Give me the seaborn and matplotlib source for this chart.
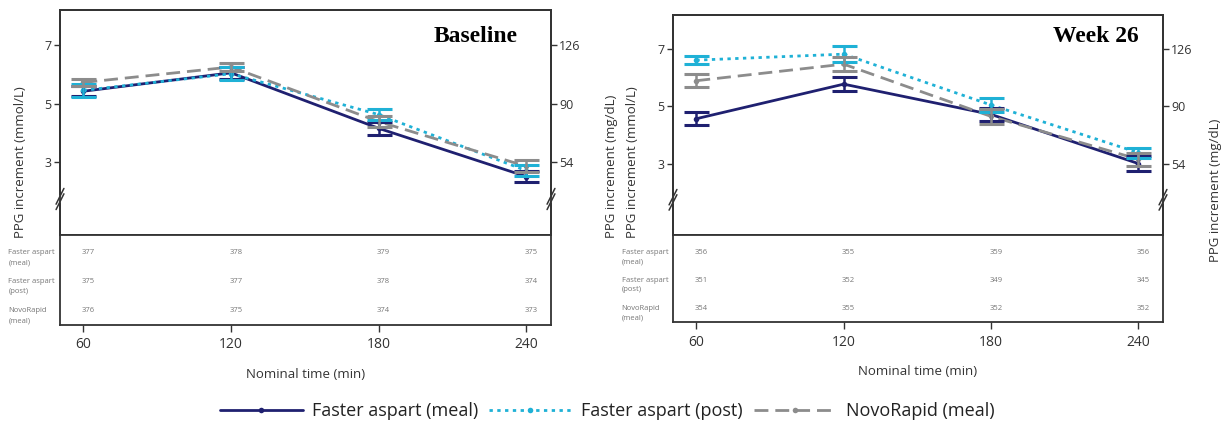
import matplotlib
matplotlib.use("Agg")
import matplotlib.pyplot as plt
import seaborn as sns
import numpy as np
import pandas as pd

# ---- data -------------------------------------------------------------
times = [60, 120, 180, 240]
series_names = ["Faster aspart (meal)", "Faster aspart (post)", "NovoRapid (meal)"]

baseline_meal = [5.42, 6.05, 4.15, 2.50]
baseline_post = [5.45, 6.02, 4.62, 2.70]
baseline_novo = [5.72, 6.25, 4.38, 2.85]
baseline_meal_se = [0.18, 0.20, 0.22, 0.20]
baseline_post_se = [0.22, 0.22, 0.18, 0.18]
baseline_novo_se = [0.12, 0.14, 0.20, 0.20]

week26_meal = [4.57, 5.78, 4.72, 3.00]
week26_post = [6.62, 6.83, 5.05, 3.38]
week26_novo = [5.90, 6.48, 4.65, 3.15]
week26_meal_se = [0.22, 0.25, 0.22, 0.25]
week26_post_se = [0.15, 0.28, 0.24, 0.18]
week26_novo_se = [0.22, 0.25, 0.25, 0.22]

baseline_n_meal = [377, 378, 379, 375]
baseline_n_post = [375, 377, 378, 374]
baseline_n_novo = [376, 375, 374, 373]
week26_n_meal = [356, 355, 359, 356]
week26_n_post = [351, 352, 349, 345]
week26_n_novo = [354, 355, 352, 352]

row_labels = [("Faster aspart", "(meal)"), ("Faster aspart", "(post)"), ("NovoRapid", "(meal)")]
y_ticks_mmol = [3, 5, 7]
y_ticks_mgdl = [54, 90, 126]
MMOL_TO_MGDL = 18.0

# ---- style ------------------------------------------------------------
sns.set_theme(style="white")
plt.rcParams["font.family"] = ["Open Sans", "DejaVu Sans"]

colors = ["#1f2070", "#1fb1d6", "#8c8c8c"]
styles = [dict(linestyle="-"),
          dict(linestyle=(0, (1.2, 1.6))),
          dict(linestyle=(0, (5, 2.5)))]
SPINE = "#333333"

W, H = 1222, 426
fig = plt.figure(figsize=(W / 100, H / 100), dpi=100)


def rect(x0, y0, x1, y1):
    return [x0 / W, 1 - y1 / H, (x1 - x0) / W, (y1 - y0) / H]


def break_mark(ax, xfrac, yfrac):
    # small "//" axis-break symbol on a spine
    tr = ax.transAxes
    dx, dy = 0.008, 0.035
    for off in (-0.012, 0.012):
        ax.plot([xfrac - dx, xfrac + dx], [yfrac + off - dy, yfrac + off + dy],
                transform=tr, color=SPINE, lw=1.1, clip_on=False, zorder=10)
    ax.plot([xfrac, xfrac], [yfrac - 0.01, yfrac + 0.01], transform=tr,
            color="white", lw=3, clip_on=False, zorder=9)


def panel(main_rect, table_rect, means, ses, counts, title, title_pos):
    ax = fig.add_axes(rect(*main_rect))
    tab = fig.add_axes(rect(*table_rect), sharex=ax)

    for name, m, se, c, st in zip(series_names, means, ses, colors, styles):
        df = pd.DataFrame({"time": times, "value": m})
        sns.lineplot(data=df, x="time", y="value", ax=ax, color=c, lw=2.0,
                     marker="o", markersize=4, markeredgewidth=0,
                     label=name, **st)
        ax.errorbar(times, m, yerr=se, fmt="none", ecolor=c, elinewidth=1.8,
                    capsize=9, capthick=2.2, zorder=3)

    ax.set_xlim(50.5, 250)
    ax.set_ylim(0.5, 8.2)
    ax.set_yticks(y_ticks_mmol)
    ax.set_yticklabels([str(v) for v in y_ticks_mmol], fontsize=9, color="#333")
    ax.set_xlabel("")
    ax.set_ylabel("")
    ax.tick_params(axis="x", bottom=False, labelbottom=False)
    ax.tick_params(axis="y", left=True, length=4, width=1, color=SPINE, pad=2)

    axr = ax.twinx()
    axr.set_ylim(0.5 * MMOL_TO_MGDL, 8.2 * MMOL_TO_MGDL)
    axr.set_yticks(y_ticks_mgdl)
    axr.set_yticklabels([str(v) for v in y_ticks_mgdl], fontsize=9, color="#333")
    axr.tick_params(axis="y", right=True, length=4, width=1, color=SPINE, pad=2)

    for a in (ax, axr):
        for s in a.spines.values():
            s.set_color(SPINE)
            s.set_linewidth(1.3)

    break_mark(ax, 0.0, 0.16)
    break_mark(ax, 1.0, 0.16)

    ax.text(title_pos[0], title_pos[1], title, transform=ax.transAxes,
            ha="right", va="center", fontsize=17, fontweight="bold",
            family="Liberation Serif", color="black")

    # at-risk table
    tab.set_ylim(0, 1)
    tab.set_yticks([])
    for s in tab.spines.values():
        s.set_color(SPINE)
        s.set_linewidth(1.3)
    tab.spines["top"].set_visible(False)
    tab.set_xticks(times)
    tab.set_xticklabels([str(t) for t in times], fontsize=10, color="#333")
    tab.tick_params(axis="x", bottom=True, length=5, width=1, color=SPINE, pad=4)
    tab.set_xlabel("Nominal time (min)", fontsize=9.5, color="#333", labelpad=11)

    row_y = [0.80, 0.48, 0.16]
    for (l1, l2), y, row in zip(row_labels, row_y, counts):
        tab.text(-0.105, y, l1, transform=tab.transAxes, ha="left", va="center",
                 fontsize=5.5, color="#777")
        tab.text(-0.105, y - 0.11, l2, transform=tab.transAxes, ha="left",
                 va="center", fontsize=5.5, color="#777")
        for t, n in zip(times, row):
            tab.text(t + 2, y, str(n), ha="center", va="center",
                     fontsize=5.5, color="#777")
    return ax


ax_left = panel((60, 10, 551, 235), (60, 235, 551, 325),
                [baseline_meal, baseline_post, baseline_novo],
                [baseline_meal_se, baseline_post_se, baseline_novo_se],
                [baseline_n_meal, baseline_n_post, baseline_n_novo],
                "Baseline", (0.933, 0.88))
ax_right = panel((673, 15, 1163, 235), (673, 235, 1163, 322),
                 [week26_meal, week26_post, week26_novo],
                 [week26_meal_se, week26_post_se, week26_novo_se],
                 [week26_n_meal, week26_n_post, week26_n_novo],
                 "Week 26", (0.951, 0.90))

# y-axis titles
def ylab(x, y, s):
    fig.text(x / W, 1 - y / H, s, rotation=90, rotation_mode="anchor",
             ha="left", va="center", fontsize=9.5, color="#333")

ylab(20, 238, "PPG increment (mmol/L)")
ylab(611, 238, "PPG increment (mg/dL)")
ylab(633, 238, "PPG increment (mmol/L)")
ylab(1216, 262, "PPG increment (mg/dL)")

# shared legend
handles, labels = ax_left.get_legend_handles_labels()
for a in (ax_left, ax_right):
    if a.get_legend() is not None:
        a.get_legend().remove()
fig.legend(handles, labels, loc="center", bbox_to_anchor=(607 / W, 1 - 411 / H),
           ncol=3, frameon=False, fontsize=13, handlelength=4.6,
           handletextpad=0.5, columnspacing=0.6, labelcolor="#222")

fig.savefig("out.png", dpi=100)
